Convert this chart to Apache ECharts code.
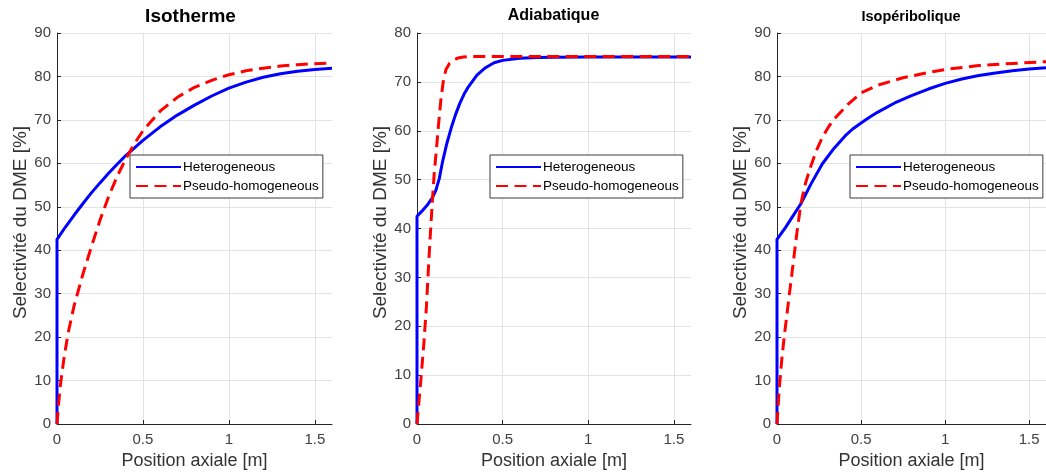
<!DOCTYPE html>
<html><head><meta charset="utf-8">
<script src="https://cdn.jsdelivr.net/npm/echarts@6/dist/echarts.min.js"></script>
<style>html,body{margin:0;padding:0;background:#fff}#c{width:1046px;height:475px}</style>
</head><body><div id="c"></div>
<script>
// ---- data ----
const panelTitles = ['Isotherme', 'Adiabatique', 'Isopéribolique'];
const seriesNames = ['Heterogeneous', 'Pseudo-homogeneous'];
const xAxisName = 'Position axiale [m]';
const yAxisName = 'Selectivité du DME [%]';
const yMax = [90, 80, 90];

// Isotherme
const isoHetX = [0, 0, 0.05, 0.1, 0.15, 0.2, 0.25, 0.3, 0.35, 0.4, 0.5, 0.6, 0.7, 0.8, 0.9, 1.0, 1.1, 1.2, 1.3, 1.4, 1.5, 1.6];
const isoHetY = [0, 42.5, 45.4, 48.1, 50.7, 53.2, 55.5, 57.7, 59.8, 61.8, 65.3, 68.4, 71.1, 73.4, 75.5, 77.3, 78.7, 79.8, 80.6, 81.2, 81.6, 81.9];
const isoPseX = [0, 0.01, 0.02, 0.04, 0.064, 0.1, 0.15, 0.2, 0.25, 0.3, 0.35, 0.4, 0.45, 0.5, 0.6, 0.7, 0.8, 0.9, 1.0, 1.1, 1.2, 1.3, 1.4, 1.5, 1.6];
const isoPseY = [0, 5, 9, 15, 20.8, 27.3, 34.4, 40.8, 46.9, 52.3, 57, 61, 64.5, 67.5, 72, 75.2, 77.5, 79.1, 80.4, 81.3, 81.9, 82.4, 82.7, 82.95, 83.1];

// Adiabatique
const adiHetX = [0, 0, 0.03, 0.06, 0.09, 0.11, 0.13, 0.15, 0.175, 0.2, 0.225, 0.25, 0.275, 0.3, 0.35, 0.4, 0.45, 0.5, 0.6, 0.7, 0.8, 1.0, 1.6];
const adiHetY = [0, 42.5, 43.6, 44.8, 46.3, 47.8, 50.2, 53.8, 57.5, 60.6, 63.3, 65.6, 67.5, 69.0, 71.4, 72.9, 73.9, 74.4, 74.85, 75.0, 75.05, 75.1, 75.1];
const adiPseX = [0, 0.01, 0.025, 0.04, 0.055, 0.07, 0.08, 0.09, 0.1, 0.113, 0.125, 0.14, 0.155, 0.17, 0.19, 0.21, 0.24, 0.27, 0.32, 0.4, 1.6];
const adiPseY = [0, 4, 10, 16.5, 24, 34, 40, 45.8, 51, 56, 61, 66.5, 70.5, 72.6, 73.8, 74.4, 74.9, 75.1, 75.2, 75.2, 75.2];

// Isopéribolique
const isopHetX = [0, 0, 0.05, 0.1, 0.142, 0.2, 0.27, 0.34, 0.405, 0.45, 0.5, 0.55, 0.6, 0.7, 0.8, 0.9, 1.0, 1.1, 1.2, 1.3, 1.4, 1.5, 1.6];
const isopHetY = [0, 42.5, 45.2, 48.2, 50.7, 55.1, 59.9, 63.5, 66.3, 67.9, 69.3, 70.6, 71.8, 73.9, 75.6, 77.1, 78.4, 79.4, 80.2, 80.8, 81.3, 81.7, 82.0];
const isopPseX = [0, 0.008, 0.016, 0.03, 0.045, 0.06, 0.074, 0.09, 0.103, 0.12, 0.142, 0.17, 0.2, 0.235, 0.27, 0.31, 0.35, 0.42, 0.5, 0.6, 0.75, 0.9, 1.0, 1.2, 1.4, 1.6];
const isopPseY = [0, 5, 9.4, 15.5, 20.8, 25.5, 30, 35, 39.2, 44.5, 50.7, 55.5, 59.2, 63, 66, 68.6, 70.6, 73.5, 76.2, 78.0, 79.7, 80.9, 81.6, 82.5, 83.0, 83.4];

// ---- build ----
const zip = (xs, ys) => xs.map((x, i) => [x, ys[i]]);
const panels = [
  { het: zip(isoHetX, isoHetY), pse: zip(isoPseX, isoPseY) },
  { het: zip(adiHetX, adiHetY), pse: zip(adiPseX, adiPseY) },
  { het: zip(isopHetX, isopHetY), pse: zip(isopPseX, isopPseY) }
];
const FONT = "'Liberation Sans', Arial, Helvetica, sans-serif";
const gridLefts = [57, 417, 777];
const gridW = [275, 274, 274];
const legendPos = [[130, 155], [490, 155], [850, 155]];
const titleStyle = [
  { x: 190.5, y: 17, size: 19 },
  { x: 553.5, y: 16, size: 16 },
  { x: 911, y: 17, size: 14.5 }
];

const grid = [], xAxis = [], yAxis = [], series = [], legend = [], graphic = [];
panels.forEach((p, i) => {
  grid.push({ left: gridLefts[i], top: 33, width: gridW[i], height: 391, containLabel: false });
  xAxis.push({
    type: 'value', gridIndex: i, min: 0, max: 1.6, interval: 0.5,
    name: xAxisName, nameLocation: 'middle', nameGap: 28,
    nameTextStyle: { fontFamily: FONT, fontSize: 18, color: '#333' },
    axisLine: { show: true, onZero: false, lineStyle: { color: '#262626', width: 1 } },
    axisTick: { show: true, inside: true, length: 4, lineStyle: { color: '#262626' } },
    axisLabel: { fontFamily: FONT, fontSize: 15, color: '#404040', margin: 8, showMaxLabel: false },
    splitLine: { show: true, showMaxLine: false, lineStyle: { color: '#e3e3e3', width: 1 } }
  });
  yAxis.push({
    type: 'value', gridIndex: i, min: 0, max: yMax[i], interval: 10,
    name: yAxisName, nameLocation: 'middle', nameGap: 26, nameRotate: 90,
    nameTextStyle: { fontFamily: FONT, fontSize: 19, color: '#333', padding: [0, 0, 0, 12] },
    axisLine: { show: true, onZero: false, lineStyle: { color: '#262626', width: 1 } },
    axisTick: { show: true, inside: true, length: 4, lineStyle: { color: '#262626' } },
    axisLabel: { fontFamily: FONT, fontSize: 15, color: '#404040', margin: 6 },
    splitLine: { show: true, lineStyle: { color: '#e3e3e3', width: 1 } }
  });
  series.push({
    name: seriesNames[0], type: 'line', xAxisIndex: i, yAxisIndex: i,
    data: p.het, symbol: 'none', smooth: false,
    lineStyle: { color: '#0000ff', width: 3 }, itemStyle: { color: '#0000ff' }, z: 2
  });
  series.push({
    name: seriesNames[1], type: 'line', xAxisIndex: i, yAxisIndex: i,
    data: p.pse, symbol: 'none', smooth: false,
    lineStyle: { color: '#ff0000', width: 3, type: [12, 6.5] }, itemStyle: { color: '#ff0000' }, z: 3
  });
  legend.push({
    data: seriesNames, orient: 'vertical',
    left: legendPos[i][0], top: legendPos[i][1],
    padding: [5, 4, 5, 5], itemGap: 5, itemWidth: 45, itemHeight: 14,
    backgroundColor: '#fff', borderColor: '#3c3c3c', borderWidth: 1, borderRadius: 0,
    itemStyle: { opacity: 0, borderWidth: 0 },
    textStyle: { fontFamily: FONT, fontSize: 13.5, color: '#000', padding: [0, 0, 0, -3] },
    selectedMode: false
  });
  const t = titleStyle[i];
  graphic.push({
    type: 'text', x: t.x, y: t.y, z: 10,
    style: { text: panelTitles[i], fontFamily: FONT, fontWeight: 'bold', fontSize: t.size, fill: '#000', align: 'center', verticalAlign: 'middle' }
  });
});

const chart = echarts.init(document.getElementById('c'), null, { renderer: 'canvas' });
chart.setOption({
  animation: false, backgroundColor: '#fff',
  grid, xAxis, yAxis, series, legend, graphic
});
</script>
</body></html>
